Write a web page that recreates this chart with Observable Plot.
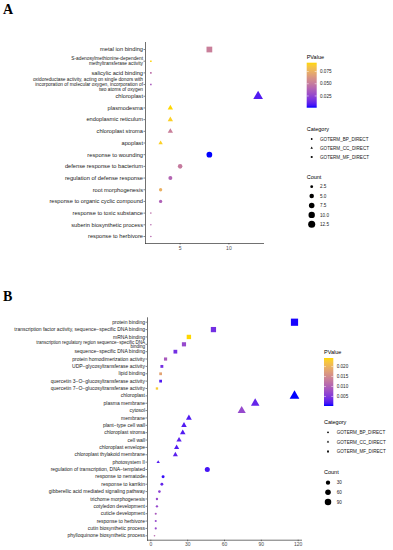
<!DOCTYPE html>
<html><head><meta charset="utf-8">
<script src="https://cdn.jsdelivr.net/npm/d3@7"></script>
<script src="https://cdn.jsdelivr.net/npm/@observablehq/plot@0.6"></script>
<style>
body{margin:0;background:#fff;}
#wrap{position:relative;width:393px;height:550px;overflow:hidden;font-family:"Liberation Sans",Arial,sans-serif;background:#fff;}
.panel{position:absolute;left:0;}
.plab{position:absolute;font-family:"Liberation Serif","Times New Roman",serif;font-weight:bold;font-size:14px;line-height:1;}
#leg{position:absolute;left:0;top:0;}
</style></head><body><div id="wrap"></div>
<script>
// ---------- Panel A data ----------
const termsA = [
  "metal ion binding",
  "S-adenosylmethionine-dependent\nmethyltransferase activity",
  "salicylic acid binding",
  "oxidoreductase activity, acting on single donors with\nincorporation of molecular oxygen, incorporation of\ntwo atoms of oxygen",
  "chloroplast",
  "plasmodesma",
  "endoplasmic reticulum",
  "chloroplast stroma",
  "apoplast",
  "response to wounding",
  "defense response to bacterium",
  "regulation of defense response",
  "root morphogenesis",
  "response to organic cyclic compound",
  "response to toxic substance",
  "suberin biosynthetic process",
  "response to herbivore"
];
const countA = [8, 2, 2, 2, 13, 4, 4, 4, 3, 8, 5, 4, 3, 3, 2, 2, 2];
const pA = [0.052, 0.092, 0.045, 0.035, 0.008, 0.093, 0.090, 0.052, 0.090, 0.001, 0.050, 0.040, 0.075, 0.038, 0.045, 0.042, 0.042];
const catA = ["MF","MF","MF","MF","CC","CC","CC","CC","CC","BP","BP","BP","BP","BP","BP","BP","BP"];
const pTicksA = [0.025, 0.050, 0.075];
const countTicksA = [2.5, 5.0, 7.5, 10.0, 12.5];
const xTicksA = [5, 10];

// ---------- Panel B data ----------
const termsB = [
  "protein binding",
  "transcription factor activity, sequence\u2212specific DNA binding",
  "mRNA binding",
  "transcription regulatory region sequence\u2212specific DNA\nbinding",
  "sequence\u2212specific DNA binding",
  "protein homodimerization activity",
  "UDP\u2212glycosyltransferase activity",
  "lipid binding",
  "quercetin 3\u2212O\u2212glucosyltransferase activity",
  "quercetin 7\u2212O\u2212glucosyltransferase activity",
  "chloroplast",
  "plasma membrane",
  "cytosol",
  "membrane",
  "plant\u2212type cell wall",
  "chloroplast stroma",
  "cell wall",
  "chloroplast envelope",
  "chloroplast thylakoid membrane",
  "photosystem II",
  "regulation of transcription, DNA\u2212templated",
  "response to nematode",
  "response to karrikin",
  "gibberellic acid mediated signaling pathway",
  "trichome morphogenesis",
  "cotyledon development",
  "cuticle development",
  "response to herbivore",
  "cutin biosynthetic process",
  "phylloquinone biosynthetic process"
];
const countB = [117, 51, 31, 27, 20, 12, 9, 8, 8, 5, 117, 85, 74, 31, 27, 26, 23, 21, 20, 6, 46, 10, 9, 7, 5, 5, 4, 4, 4, 3];
const pB = [0.0004, 0.004, 0.0243, 0.007, 0.004, 0.009, 0.004, 0.018, 0.002, 0.023,
            0.0002, 0.003, 0.007, 0.002, 0.002, 0.002, 0.0025, 0.002, 0.0025, 0.002,
            0.0015, 0.001, 0.003, 0.006, 0.007, 0.007, 0.009, 0.007, 0.007, 0.011];
const catB = ["MF","MF","MF","MF","MF","MF","MF","MF","MF","MF",
              "CC","CC","CC","CC","CC","CC","CC","CC","CC","CC",
              "BP","BP","BP","BP","BP","BP","BP","BP","BP","BP"];
const pTicksB = [0.005, 0.010, 0.015, 0.020];
const countTicksB = [30, 60, 90];
const xTicksB = [0, 30, 60, 90, 120];

const catNames = ["BP","CC","MF"];
const catLabels = ["GOTERM_BP_DIRECT","GOTERM_CC_DIRECT","GOTERM_MF_DIRECT"];
// ggplot-like filled square: side equals circle diameter
const squareSym = {draw(ctx, size) { const s = Math.sqrt(size / Math.PI); ctx.rect(-s, -s, 2 * s, 2 * s); }};
const symbols = ["circle", "triangle", squareSym];
const FONT = '"Liberation Sans",Arial,sans-serif';
const R_RANGE = [0.8, 3.6];

function makePanel(terms, counts, ps, cats, xTicks, opt) {
  const data = terms.map((t, i) => ({term: t, count: counts[i], p: ps[i], cat: cats[i]}));
  const cmin = d3.min(counts), cmax = d3.max(counts);
  const span = cmax - cmin;
  const xdom = [cmin - 0.05 * span, cmax + 0.05 * span];
  const pdom = d3.extent(ps);
  const chart = Plot.plot({
    width: 393, height: 275,
    marginLeft: opt.ml, marginRight: opt.mr, marginTop: opt.mt, marginBottom: opt.mb,
    style: {fontFamily: FONT, background: "transparent", overflow: "visible"},
    x: {domain: xdom, label: null},
    y: {type: "point", domain: terms, padding: 0.6, round: false, label: null},
    color: {type: "linear", domain: pdom, range: ["blue", "gold"], interpolate: "lab"},
    symbol: {domain: catNames, range: symbols},
    r: {type: "linear", domain: [0, 1], range: R_RANGE},
    marks: [
      Plot.frame({anchor: "left", stroke: "#333", strokeWidth: 0.7}),
      Plot.frame({anchor: "bottom", stroke: "#333", strokeWidth: 0.7}),
      Plot.axisY({tickSize: 1.5, tickPadding: 1, fontSize: opt.yfs, lineHeight: 1.0, stroke: "#333", fill: "#1a1a1a", strokeWidth: 0.6}),
      Plot.axisX({ticks: xTicks, tickSize: 1.5, tickPadding: 1, fontSize: 5, stroke: "#333", fill: "#4d4d4d", strokeWidth: 0.6}),
      Plot.dot(data, {x: "count", y: "term", fill: "p", symbol: "cat",
        r: d => Math.sqrt((d.count - cmin) / span)})
    ]
  });
  chart.classList.add("panel");
  chart.style.top = opt.top + "px";
  return {chart, cmin, span, pdom};
}

const wrap = document.getElementById("wrap");
const A = makePanel(termsA, countA, pA, catA, xTicksA,
  {ml: 145, mr: 130, mt: 42, mb: 32, yfs: d => (String(d).includes("\n") ? 4.8 : 5.7), top: 0});
const B = makePanel(termsB, countB, pB, catB, xTicksB,
  {ml: 147, mr: 92, mt: 42.3, mb: 10.3, yfs: d => (String(d).includes("\n") ? 4.5 : 5.0), top: 275});
wrap.appendChild(A.chart);
wrap.appendChild(B.chart);

for (const [t, x, y] of [["A", 3, 3], ["B", 3, 290]]) {
  const d = document.createElement("div");
  d.className = "plab"; d.textContent = t;
  d.style.left = x + "px"; d.style.top = y + "px";
  wrap.appendChild(d);
}

// ---------- Legends ----------
const svg = d3.select(wrap).append("svg").attr("id", "leg").attr("width", 393).attr("height", 550)
  .style("font-family", FONT);
const interp = d3.interpolateLab("blue", "gold");
const rpx = (v, P) => R_RANGE[0] + (R_RANGE[1] - R_RANGE[0]) * Math.sqrt(Math.max(0, v - P.cmin) / P.span);

function legend(id, P, L, pTicks, countTicks, countFmt) {
  const g = svg.append("g");
  g.append("text").attr("x", L.x).attr("y", L.pTitle).attr("dy", "0.35em").attr("font-size", 5.5).attr("fill", "#000").text("PValue");
  const grad = svg.append("defs").append("linearGradient").attr("id", id).attr("x1", 0).attr("x2", 0).attr("y1", 1).attr("y2", 0);
  for (let i = 0; i <= 20; i++) grad.append("stop").attr("offset", i / 20).attr("stop-color", interp(i / 20));
  g.append("rect").attr("x", L.x).attr("y", L.barTop).attr("width", L.barW).attr("height", L.barH).attr("fill", `url(#${id})`);
  const py = d3.scaleLinear().domain(P.pdom).range([L.barTop + L.barH, L.barTop]);
  for (const t of pTicks) {
    const y = py(t);
    g.append("line").attr("x1", L.x).attr("x2", L.x + 2).attr("y1", y).attr("y2", y).attr("stroke", "#fff").attr("stroke-width", 0.5);
    g.append("line").attr("x1", L.x + L.barW - 2).attr("x2", L.x + L.barW).attr("y1", y).attr("y2", y).attr("stroke", "#fff").attr("stroke-width", 0.5);
    g.append("text").attr("x", L.lx).attr("y", y).attr("dy", "0.35em").attr("font-size", 4.6).attr("fill", "#1a1a1a").text(d3.format(".3f")(t));
  }
  g.append("text").attr("x", L.x).attr("y", L.cTitle).attr("dy", "0.35em").attr("font-size", 5.5).attr("fill", "#000").text("Category");
  catLabels.forEach((lab, i) => {
    const y = L.cItems[i];
    const sym = [d3.symbolCircle, d3.symbolTriangle, squareSym][i];
    g.append("path").attr("transform", `translate(${L.dx},${y})`).attr("d", d3.symbol(sym, Math.PI * 0.9 * 0.9)()).attr("fill", "#000");
    g.append("text").attr("x", L.lx).attr("y", y).attr("dy", "0.35em").attr("font-size", 4.6).attr("fill", "#1a1a1a").text(lab);
  });
  g.append("text").attr("x", L.x).attr("y", L.nTitle).attr("dy", "0.35em").attr("font-size", 5.5).attr("fill", "#000").text("Count");
  countTicks.forEach((v, i) => {
    const y = L.nItems[i];
    g.append("circle").attr("cx", L.dx).attr("cy", y).attr("r", rpx(v, P)).attr("fill", "#000");
    g.append("text").attr("x", L.lx).attr("y", y).attr("dy", "0.35em").attr("font-size", 4.6).attr("fill", "#1a1a1a").text(d3.format(countFmt)(v));
  });
}

legend("gA", A, {x: 306.7, lx: 320, dx: 311.7, pTitle: 56.7, barTop: 62.7, barW: 10, barH: 45,
  cTitle: 129.3, cItems: [139, 148, 157], nTitle: 177, nItems: [186.7, 196.1, 205.5, 214.9, 224.3]}, pTicksA, countTicksA, ".1f");
legend("gB", B, {x: 324, lx: 336.7, dx: 328, pTitle: 352, barTop: 358, barW: 9.3, barH: 48,
  cTitle: 422, cItems: [432.3, 441.9, 451.5], nTitle: 472, nItems: [482.7, 492.3, 502]}, pTicksB, countTicksB, "d");
</script>
</body></html>
